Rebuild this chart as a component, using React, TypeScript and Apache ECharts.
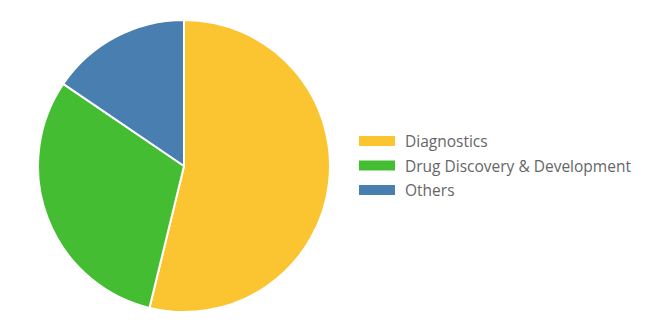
import React, { useEffect, useRef } from "react";
import * as echarts from "echarts";

const categories = ["Diagnostics", "Drug Discovery & Development", "Others"];
const values = [53.8, 30.7, 15.5];
const colors = ["#fbc531", "#44bd32", "#487eb0"];

export default function App() {
  const ref = useRef<HTMLDivElement>(null);
  useEffect(() => {
    const chart = echarts.init(ref.current!, null, { renderer: "svg" });
    chart.setOption({
      animation: false,
      color: colors,
      legend: {
        orient: "vertical",
        left: 344,
        top: 120,
        itemWidth: 38,
        itemHeight: 12,
        itemGap: 8.5,
        icon: "rect",
        textStyle: {
          color: "#666",
          fontSize: 15.5,
          fontFamily: "Open Sans",
          padding: [0, 0, 0, 4],
        },
        data: categories,
      },
      series: [
        {
          type: "pie",
          center: [176, 158],
          radius: 146,
          startAngle: 90,
          clockwise: true,
          label: { show: false },
          labelLine: { show: false },
          itemStyle: { borderColor: "#fff", borderWidth: 2 },
          data: categories.map((c, i) => ({ name: c, value: values[i] })),
        },
      ],
    });
    return () => chart.dispose();
  }, []);
  return <div ref={ref} style={{ width: 652, height: 318 }} />;
}
